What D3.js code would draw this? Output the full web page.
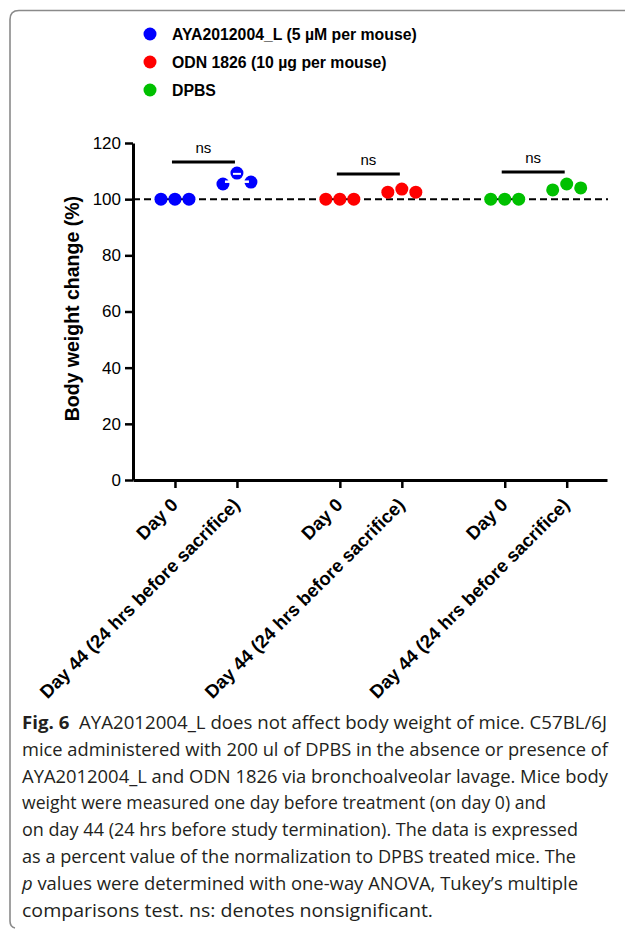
<!DOCTYPE html>
<html>
<head>
<meta charset="utf-8">
<script src="https://cdn.jsdelivr.net/npm/d3@7"></script>
<style>
body { margin: 0; background: #fff; }
svg { display: block; }
.chart text { font-family: "Liberation Sans", Arial, sans-serif; fill: #000; }
.caption { font-family: "Open Sans", "Noto Sans", sans-serif; font-size: 18px; fill: #231f20; }
</style>
</head>
<body>
<svg id="fig" width="625" height="929"></svg>
<script>
// values
var groups = ["AYA2012004_L (5 \u00b5M per mouse)", "ODN 1826 (10 \u00b5g per mouse)", "DPBS"];
var groupColors = ["#0000ff", "#ff0000", "#00c000"];
var days = ["Day 0", "Day 44 (24 hrs before sacrifice)"];
var day0Values = [[100, 100, 100], [100, 100, 100], [100, 100, 100]];
var day44Values = [[105.4, 109.3, 106.1], [102.5, 103.6, 102.5], [103.3, 105.4, 104.0]];
var sigLabels = ["ns", "ns", "ns"];
var sigHeights = [113.2, 109.0, 109.7];
var showMeanSD = [true, false, false];
var yTicks = [0, 20, 40, 60, 80, 100, 120];
var refLine = 100;

var caption = [
  [{t: "Fig.\u00a06", b: true}, {t: "  AYA2012004_L does not affect body weight of mice. C57BL/6J"}],
  [{t: "mice administered with 200 ul of DPBS in the absence or presence of"}],
  [{t: "AYA2012004_L and ODN 1826 via bronchoalveolar lavage. Mice body"}],
  [{t: "weight were measured one day before treatment (on day 0) and"}],
  [{t: "on day 44 (24 hrs before study termination). The data is expressed"}],
  [{t: "as a percent value of the normalization to DPBS treated mice. The"}],
  [{t: "p", i: true}, {t: " values were determined with one-way ANOVA, Tukey\u2019s multiple"}],
  [{t: "comparisons test. ns: denotes nonsignificant."}]
];
var captionEnds = [607, 608, 608, 546, 578, 576, 578, 433];

var svg = d3.select("#fig");

// frame round the figure
svg.append("path")
  .attr("d", "M625,10.5 H19 Q10,10.5 10,19.5 V921 Q10,927 15,928")
  .attr("fill", "none")
  .attr("stroke", "#8a8a8a")
  .attr("stroke-width", 1.6);

var g = svg.append("g").attr("class", "chart");

// slot of each column: group * gap + day
var gap = 2.66;
var x = d3.scaleLinear().domain([-0.677, 2 * gap + 1.65]).range([133, 607]);
var y = d3.scaleLinear().domain([0, 120]).range([480, 143]);

var cols = [];
groups.forEach(function(name, gi) {
  cols.push({g: gi, d: 0, pos: gi * gap, vals: day0Values[gi]});
  cols.push({g: gi, d: 1, pos: gi * gap + 1, vals: day44Values[gi]});
});

// y axis
var yAxis = g.append("g")
  .attr("transform", "translate(133,0)")
  .call(d3.axisLeft(y).tickValues(yTicks).tickSize(8).tickSizeOuter(0).tickPadding(4));
yAxis.select(".domain").attr("stroke-width", 3).attr("stroke", "#000");
yAxis.selectAll(".tick line").attr("stroke-width", 2.5).attr("stroke", "#000");
yAxis.selectAll(".tick text").style("font-size", "17px").attr("fill", "#000");

// x axis
var xAxis = g.append("g")
  .attr("transform", "translate(0,480)")
  .call(d3.axisBottom(x).tickValues(cols.map(function(c) { return c.pos; }))
    .tickSize(8).tickSizeOuter(0).tickFormat(""));
xAxis.select(".domain").attr("stroke-width", 3).attr("stroke", "#000");
xAxis.selectAll(".tick line").attr("stroke-width", 2.5).attr("stroke", "#000");

g.selectAll("text.xlab")
  .data(cols)
  .enter().append("text")
  .attr("class", "xlab")
  .attr("transform", function(c) { return "translate(" + (x(c.pos) + 4) + ",506) rotate(-45)"; })
  .attr("text-anchor", "end")
  .style("font-size", "18.5px")
  .style("font-weight", "bold")
  .text(function(c) { return days[c.d]; });

// y title
g.append("text")
  .attr("transform", "translate(79," + y(61) + ") rotate(-90)")
  .attr("text-anchor", "middle")
  .style("font-size", "19.5px")
  .style("font-weight", "bold")
  .text("Body weight change (%)");

// dashed line at 100
g.append("line")
  .attr("x1", 133).attr("x2", 608)
  .attr("y1", y(refLine)).attr("y2", y(refLine))
  .attr("stroke", "#000")
  .attr("stroke-width", 2)
  .attr("stroke-dasharray", "7,4");

// points
var offsets = [-14, 0, 14];
cols.forEach(function(c) {
  g.selectAll(null)
    .data(c.vals)
    .enter().append("circle")
    .attr("cx", function(v, i) { return x(c.pos) + offsets[i]; })
    .attr("cy", function(v) { return y(v); })
    .attr("r", 6.5)
    .attr("fill", groupColors[c.g]);

  if (c.d == 1 && showMeanSD[c.g]) {
    var m = d3.mean(c.vals), sd = d3.deviation(c.vals);
    var cx = x(c.pos);
    [[-12, -3], [3, 12]].forEach(function(s) {
      g.append("line")
        .attr("x1", cx + s[0]).attr("x2", cx + s[1])
        .attr("y1", y(m) + 2).attr("y2", y(m) + 2)
        .attr("stroke", "#fff").attr("stroke-width", 2.5);
    });
    g.append("line")
      .attr("x1", cx - 4).attr("x2", cx + 4)
      .attr("y1", y(m + sd)).attr("y2", y(m + sd))
      .attr("stroke", "#fff").attr("stroke-width", 2);
  }
});

// significance bars
groups.forEach(function(name, gi) {
  var x1 = x(gi * gap) - 3, x2 = x(gi * gap + 1) - 2;
  g.append("line")
    .attr("x1", x1).attr("x2", x2)
    .attr("y1", y(sigHeights[gi])).attr("y2", y(sigHeights[gi]))
    .attr("stroke", "#000").attr("stroke-width", 3);
  g.append("text")
    .attr("x", (x1 + x2) / 2)
    .attr("y", y(sigHeights[gi]) - 9)
    .attr("text-anchor", "middle")
    .style("font-size", "15px")
    .text(sigLabels[gi]);
});

// legend
var leg = g.selectAll("g.leg")
  .data(groups)
  .enter().append("g")
  .attr("class", "leg")
  .attr("transform", function(d, i) { return "translate(150," + (34 + i * 28) + ")"; });
leg.append("circle")
  .attr("r", 6.5)
  .attr("fill", function(d, i) { return groupColors[i]; });
leg.append("text")
  .attr("x", 22)
  .attr("dy", "0.35em")
  .style("font-size", "15.8px")
  .style("font-weight", "bold")
  .text(function(d) { return d; });

// caption
caption.forEach(function(line, li) {
  var t = svg.append("text")
    .attr("class", "caption")
    .attr("x", 22)
    .attr("y", 729 + li * 26.8)
    .attr("textLength", captionEnds[li] - 22)
    .attr("lengthAdjust", "spacingAndGlyphs")
    .attr("xml:space", "preserve");
  line.forEach(function(p) {
    t.append("tspan")
      .style("font-weight", p.b ? "bold" : null)
      .style("font-style", p.i ? "italic" : null)
      .text(p.t);
  });
});
</script>
</body>
</html>
